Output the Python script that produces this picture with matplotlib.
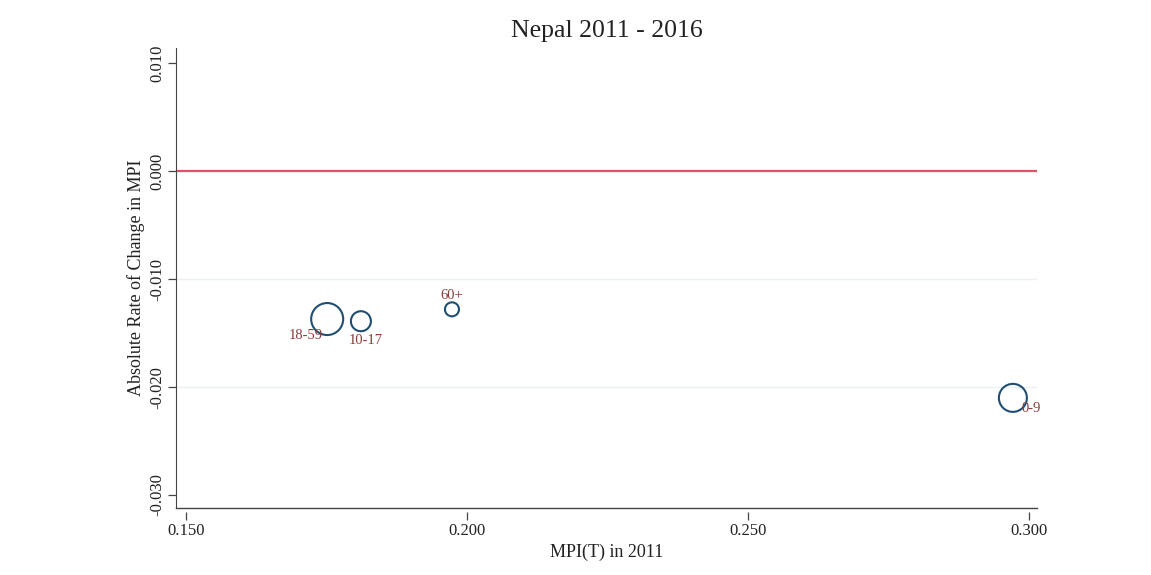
import matplotlib
matplotlib.use("Agg")
import matplotlib.pyplot as plt

# Data
groups = ["18-59", "10-17", "60+", "0-9"]
mpi_2011 = [0.1751, 0.1811, 0.1973, 0.2971]
abs_change = [-0.0137, -0.0139, -0.0128, -0.0210]
weights = [256, 100, 49, 196]  # relative population weights (marker area)
label_pos = ["sw", "s", "n", "se"]

xticks = [0.150, 0.200, 0.250, 0.300]
yticks = [0.010, 0.000, -0.010, -0.020, -0.030]

plt.rcParams['font.family'] = ['Liberation Serif', 'DejaVu Serif']

fig = plt.figure(figsize=(11.51, 5.75), dpi=100)
ax = fig.add_axes([0.1529, 0.1165, 0.901 - 0.1529, 0.9165 - 0.1165])

xmin, xmax = 0.1482, 0.3014
ymin, ymax = -0.0312, 0.0114
ax.set_xlim(xmin, xmax)
ax.set_ylim(ymin, ymax)

# grid lines
for yv in [-0.010, -0.020]:
    ax.axhline(yv, color="#eaf0f4", lw=1.0, zorder=0)
ax.axhline(0.0, color="#d9546b", lw=1.6, zorder=1)

sizes = [w * 0.72 ** 2 * 4 for w in weights]
ax.scatter(mpi_2011, abs_change, s=sizes, facecolors="none",
           edgecolors="#1f4e74", linewidths=1.5, zorder=3)

offsets = {"sw": (-3, -7, "right", "top"), "s": (-9, -9, "left", "top"),
           "n": (0, 5, "center", "bottom"), "se": (6, -3, "left", "top")}
for g, xv, yv, p in zip(groups, mpi_2011, abs_change, label_pos):
    dx, dy, ha, va = offsets[p]
    ax.annotate(g, (xv, yv), xytext=(dx, dy), textcoords="offset points",
                ha=ha, va=va, fontsize=10.5, color="#8b3a3a", zorder=4)

ax.set_xticks(xticks)
ax.set_xticklabels([f"{v:.3f}" for v in xticks])
ax.set_yticks(yticks)
ax.set_yticklabels([f"{v:.3f}" for v in yticks], rotation=90, va="center")

ax.spines["top"].set_visible(False)
ax.spines["right"].set_visible(False)
ax.spines["left"].set_color("#444444")
ax.spines["bottom"].set_visible(False)
ax.spines["bottom"].set_position(("outward", 3))
ax.axhline(ymin, color="#444444", lw=1.0, clip_on=False, zorder=5)

ax.tick_params(axis="both", colors="#444444", labelcolor="#222222", labelsize=12,
               length=6, width=0.9, pad=2)

ax.set_xlabel("MPI(T) in 2011", fontsize=13, color="#222222", labelpad=3)
ax.set_ylabel("Absolute Rate of Change in MPI", fontsize=13, color="#222222", labelpad=3)
fig.text(0.527, 0.946, "Nepal 2011 - 2016", fontsize=18.5, color="#222222",
         ha="center", va="center")

fig.savefig("out.png", dpi=100, facecolor="white")
